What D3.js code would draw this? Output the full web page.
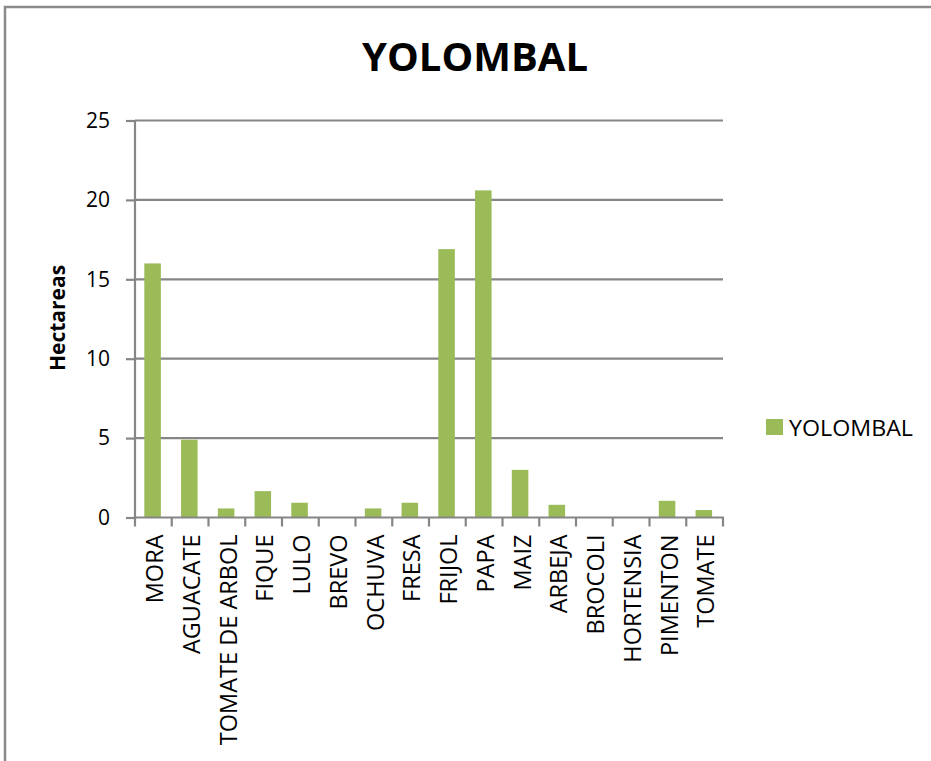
<!DOCTYPE html>
<html>
<head>
<meta charset="utf-8">
<script src="https://cdn.jsdelivr.net/npm/d3@7"></script>
<style>
  html, body { margin: 0; padding: 0; background: #fff; }
  svg { display: block; }
  text { font-family: "Open Sans", "DejaVu Sans", sans-serif; fill: #000; }
</style>
</head>
<body>
<svg id="chart" width="931" height="761"></svg>
<script>
const categories = ["MORA","AGUACATE","TOMATE DE ARBOL","FIQUE","LULO","BREVO","OCHUVA","FRESA","FRIJOL","PAPA","MAIZ","ARBEJA","BROCOLI","HORTENSIA","PIMENTON","TOMATE"];
const values = [16.0, 4.9, 0.57, 1.66, 0.93, 0, 0.57, 0.93, 16.9, 20.6, 3.0, 0.8, 0, 0, 1.05, 0.47];
const yTicks = [0, 5, 10, 15, 20, 25];
const seriesName = "YOLOMBAL";
const titleText = "YOLOMBAL";
const yLabel = "Hectareas";

const svg = d3.select("#chart");
const gray = "#868686";
const barColor = "#9bbb59";

// outer frame (top and left edges visible)
svg.append("path").attr("d", "M5,770 L5,7 L945,7")
  .attr("fill", "none").attr("stroke", "#8a8a8a").attr("stroke-width", 2.5);

const plot = { left: 135, right: 723, top: 120.5, bottom: 517.5 };

const x = d3.scaleBand().domain(categories).range([plot.left, plot.right]).padding(0);
const y = d3.scaleLinear().domain([0, 25]).range([plot.bottom, plot.top]);

// y ticks
const yAxis = d3.axisLeft(y).tickValues(yTicks).tickSize(9).tickPadding(16)
  .tickFormat(d3.format("d"));
const gy = svg.append("g").attr("transform", `translate(${plot.left},0)`).call(yAxis);
gy.select(".domain").remove();
gy.selectAll(".tick line").attr("stroke", gray).attr("stroke-width", 2.2);
gy.selectAll(".tick text").attr("font-size", 21).attr("fill", "#000")
  .attr("font-family", "'Open Sans', sans-serif");

// gridlines
svg.append("g").selectAll("line").data(yTicks.filter(d => d > 0)).join("line")
  .attr("x1", plot.left).attr("x2", plot.right)
  .attr("y1", d => y(d)).attr("y2", d => y(d))
  .attr("stroke", gray).attr("stroke-width", 2.2);

// y axis line
svg.append("line").attr("x1", plot.left).attr("x2", plot.left)
  .attr("y1", plot.top).attr("y2", plot.bottom)
  .attr("stroke", gray).attr("stroke-width", 2.2);

// bars
const barW = x.bandwidth() * 0.45;
svg.append("g").selectAll("rect").data(categories.map((c, i) => ({ c, v: values[i] })))
  .join("rect")
  .attr("x", d => x(d.c) + x.bandwidth() / 2 - barW / 2 - 0.8)
  .attr("width", barW)
  .attr("y", d => y(d.v))
  .attr("height", d => y(0) - y(d.v))
  .attr("fill", barColor);

// x axis
const gx = svg.append("g").attr("transform", `translate(0,${plot.bottom})`);
gx.append("line").attr("x1", plot.left).attr("x2", plot.right + 1)
  .attr("stroke", gray).attr("stroke-width", 2.2);
const boundaries = categories.map(c => x(c)).concat([plot.right]);
gx.selectAll("line.tk").data(boundaries).join("line").attr("class", "tk")
  .attr("x1", d => d).attr("x2", d => d).attr("y1", 0).attr("y2", 9)
  .attr("stroke", gray).attr("stroke-width", 2.2);
gx.selectAll("text").data(categories).join("text")
  .attr("transform", d => `translate(${x(d) + x.bandwidth() / 2 + 1.5},17) rotate(-90)`)
  .attr("text-anchor", "end").attr("dy", "0.35em")
  .attr("font-size", 23.5)
  .text(d => d);

// y label
svg.append("text")
  .attr("transform", "translate(58,318) rotate(-90)")
  .attr("text-anchor", "middle").attr("dy", "0.35em")
  .attr("font-size", 21).attr("font-weight", "bold")
  .text(yLabel);

// title
svg.append("text").attr("x", 475).attr("y", 71)
  .attr("text-anchor", "middle").attr("font-size", 39).attr("font-weight", "bold")
  .attr("textLength", 226).attr("lengthAdjust", "spacingAndGlyphs")
  .text(titleText);

// legend
const lg = svg.append("g").attr("transform", "translate(766,419)");
lg.append("rect").attr("width", 17).attr("height", 16).attr("fill", barColor);
lg.append("text").attr("x", 23).attr("y", 16.5).attr("font-size", 21)
  .attr("textLength", 124).attr("lengthAdjust", "spacingAndGlyphs")
  .text(seriesName);
</script>
</body>
</html>
